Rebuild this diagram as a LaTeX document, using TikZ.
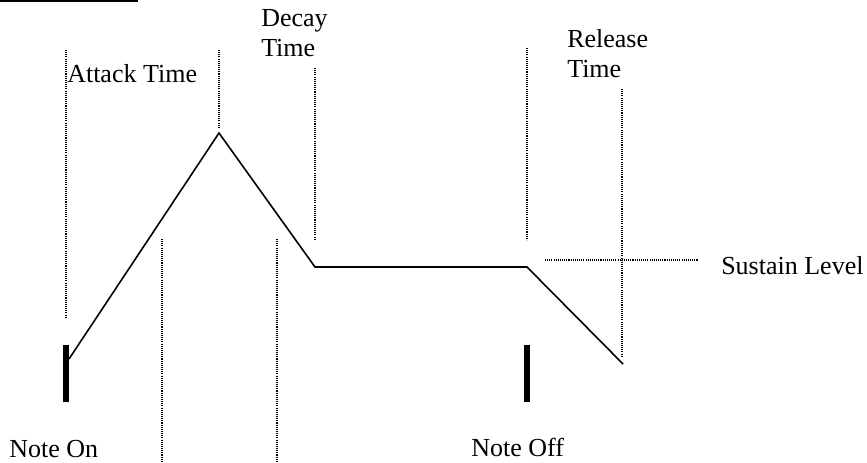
\documentclass[tikz,border=0pt]{standalone}
\usepackage{fontspec}
\setmainfont{Liberation Serif}
\usepackage{tikz}
\usetikzlibrary{positioning}

\begin{document}
\begin{tikzpicture}[
    x=0.75pt, y=-0.75pt,
    every node/.style={inner sep=0pt, anchor=base west, align=left, font=\fontsize{19.5}{22.5}\selectfont},
    env/.style={line width=1.2pt},
    guide/.style={line width=0.9pt, dash pattern=on 0.8pt off 0.8pt},
    note/.style={line width=5.2pt}
    ]
    \useasboundingbox (0,0) rectangle (867,463);

    % Top rule
    \fill (0,0) rectangle (138,2.5);

    % Envelope points
    \coordinate (start)   at (69,359);
    \coordinate (peak)    at (219,133);
    \coordinate (decayed) at (315,267);
    \coordinate (release) at (527,267);
    \coordinate (finish)  at (623,364);

    % Note bars
    \coordinate (on_top)  at (66,345);
    \coordinate (on_bot)  at (66,402);
    \coordinate (off_top) at (527,345);
    \coordinate (off_bot) at (527,402);

    % Guide ends
    \coordinate (g1a) at (66,50);   \coordinate (g1b) at (66,318);
    \coordinate (g2a) at (219,50);  \coordinate (g2b) at (219,127);
    \coordinate (g3a) at (315,68);  \coordinate (g3b) at (315,240);
    \coordinate (g4a) at (527,48);  \coordinate (g4b) at (527,240);
    \coordinate (g5a) at (622,89);  \coordinate (g5b) at (622,357);
    \coordinate (g6a) at (545,260); \coordinate (g6b) at (698,260);
    \coordinate (g7a) at (162,239); \coordinate (g7b) at (162,463);
    \coordinate (g8a) at (277,239); \coordinate (g8b) at (277,463);

    % Nodes
    \node (attack)  at (67,83)   {Attack Time};
    \node (decay)   at (261,57)  {Decay\\Time};
    \node (rel)     at (567,78)  {Release\\Time};
    \node (sustain) at (721,275) {Sustain Level};
    \node (noteon)  at (9,457)   {Note On};
    \node (noteoff) at (471,456) {Note Off};

    % Envelope
    \draw[env] (start) -- (peak) -- (decayed) -- (release) -- (finish);
    \draw[note] (on_top) -- (on_bot);
    \draw[note] (off_top) -- (off_bot);

    % Guides
    \foreach \g in {1,...,8}
      \draw[guide] (g\g a) -- (g\g b);
\end{tikzpicture}
\end{document}
